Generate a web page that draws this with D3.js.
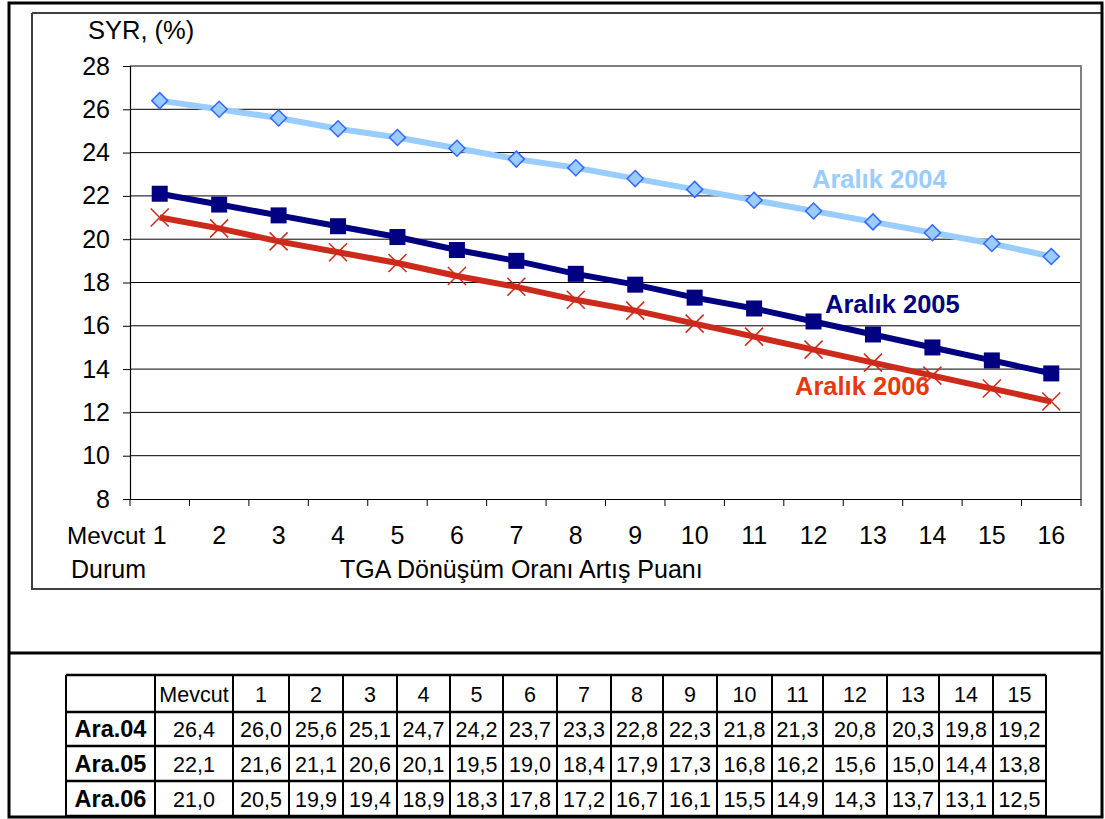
<!DOCTYPE html>
<html><head><meta charset="utf-8">
<script src="https://cdn.jsdelivr.net/npm/d3@7"></script>
<style>
html,body{margin:0;padding:0;background:#fff;}
svg{display:block;font-family:"Liberation Sans",Arial,sans-serif;}
</style></head>
<body><svg id="c" width="1105" height="819"></svg>
<script>
const xLabels = ["1","2","3","4","5","6","7","8","9","10","11","12","13","14","15","16"];
const tableHeaders = ["Mevcut","1","2","3","4","5","6","7","8","9","10","11","12","13","14","15"];
const seriesNames = ["Aralık 2004","Aralık 2005","Aralık 2006"];
const rowLabels = ["Ara.04","Ara.05","Ara.06"];
const ara04 = [26.4,26.0,25.6,25.1,24.7,24.2,23.7,23.3,22.8,22.3,21.8,21.3,20.8,20.3,19.8,19.2];
const ara05 = [22.1,21.6,21.1,20.6,20.1,19.5,19.0,18.4,17.9,17.3,16.8,16.2,15.6,15.0,14.4,13.8];
const ara06 = [21.0,20.5,19.9,19.4,18.9,18.3,17.8,17.2,16.7,16.1,15.5,14.9,14.3,13.7,13.1,12.5];
const yTicks = [8,10,12,14,16,18,20,22,24,26,28];

const svg = d3.select("#c");
const L=130, R=1081, T=66, B=499;
const FS = 25;

// outer frame
svg.append("rect").attr("x",9).attr("y",3).attr("width",1093).attr("height",814)
  .attr("fill","none").attr("stroke","#000").attr("stroke-width",3);
// chart area box
svg.append("path").attr("d","M32,13 H1102").attr("stroke","#000").attr("stroke-width",1.5);
svg.append("path").attr("d","M32,13 V589 H1102").attr("fill","none").attr("stroke","#404040").attr("stroke-width",2);
// divider
svg.append("path").attr("d","M9,653 H1102").attr("stroke","#000").attr("stroke-width",3);

const x = d3.scaleBand().domain(xLabels).range([L,R]);
const y = d3.scaleLinear().domain([8,28]).range([B,T]);

// gridlines
svg.append("g").selectAll("line").data(yTicks.filter(d=>d>8)).join("line")
  .attr("x1",L).attr("x2",R).attr("y1",d=>y(d)).attr("y2",d=>y(d))
  .attr("stroke","#000").attr("stroke-width",1);
// right border of plot (gray)
svg.append("line").attr("x1",R).attr("x2",R).attr("y1",T-1).attr("y2",B)
  .attr("stroke","#808080").attr("stroke-width",2);

// y axis
const yAxis = svg.append("g").attr("transform",`translate(${L},0)`)
  .call(d3.axisLeft(y).tickValues(yTicks).tickSize(7).tickPadding(13).tickFormat(d3.format("d")));
yAxis.select(".domain").attr("stroke","#000").attr("stroke-width",1.2);
yAxis.selectAll(".tick line").attr("stroke","#000");
yAxis.selectAll("text").attr("font-size",FS).attr("fill","#000").attr("font-family","Liberation Sans, Arial, sans-serif");

// x axis
const xAxis = svg.append("g").attr("transform",`translate(0,${B})`)
  .call(d3.axisBottom(x).tickSize(0).tickPadding(0));
xAxis.select(".domain").attr("stroke","#000").attr("stroke-width",1.2);
xAxis.selectAll("text").attr("font-size",FS).attr("fill","#000").attr("dy",null).attr("y",45)
  .attr("font-family","Liberation Sans, Arial, sans-serif");
// category-boundary tick marks
const bounds = xLabels.map(d=>x(d)).concat([x(xLabels[xLabels.length-1])+x.bandwidth()]);
svg.append("g").selectAll("line").data(bounds).join("line")
  .attr("x1",d=>d).attr("x2",d=>d).attr("y1",B).attr("y2",B+7).attr("stroke","#000");

svg.append("text").attr("x",67).attr("y",544).attr("font-size",24.3).text("Mevcut");
svg.append("text").attr("x",71).attr("y",578).attr("font-size",FS).text("Durum");
svg.append("text").attr("x",340).attr("y",578).attr("font-size",FS).text("TGA Dönüşüm Oranı Artış Puanı");
svg.append("text").attr("x",88).attr("y",39).attr("font-size",25.5).text("SYR, (%)");

const cx = (d,i)=>x(xLabels[i])+x.bandwidth()/2;
const line = d3.line().x((d,i)=>cx(d,i)).y(d=>y(d));

// series 2004
svg.append("path").datum(ara04).attr("d",line).attr("fill","none").attr("stroke","#99ccff").attr("stroke-width",6);
svg.append("g").selectAll("path").data(ara04).join("path")
  .attr("d",(d,i)=>{const X=cx(d,i),Y=y(d),s=8;return `M${X},${Y-s}L${X+s},${Y}L${X},${Y+s}L${X-s},${Y}Z`;})
  .attr("fill","#99ccff").attr("stroke","#3366ff").attr("stroke-width",1.5);
// series 2005
svg.append("path").datum(ara05).attr("d",line).attr("fill","none").attr("stroke","#000080").attr("stroke-width",6);
svg.append("g").selectAll("rect").data(ara05).join("rect")
  .attr("x",(d,i)=>cx(d,i)-8).attr("y",d=>y(d)-8).attr("width",16).attr("height",16)
  .attr("fill","#000080");
// series 2006
svg.append("path").datum(ara06).attr("d",line).attr("fill","none").attr("stroke","#cc2a1a").attr("stroke-width",6);
svg.append("g").selectAll("path").data(ara06).join("path")
  .attr("d",(d,i)=>{const X=cx(d,i),Y=y(d),s=9;return `M${X-s},${Y-s}L${X+s},${Y+s}M${X+s},${Y-s}L${X-s},${Y+s}`;})
  .attr("stroke","#cc2a1a").attr("stroke-width",1.5).attr("fill","none");

// series labels
const labelPos = [[812,188,"#99ccff"],[825,313,"#000080"],[795,395,"#e8380d"]];
svg.append("g").selectAll("text").data(seriesNames).join("text")
  .attr("x",(d,i)=>labelPos[i][0]).attr("y",(d,i)=>labelPos[i][1])
  .attr("fill",(d,i)=>labelPos[i][2]).attr("font-size",25.5).attr("font-weight","bold")
  .text(d=>d);

// table
const colB = [66,155,233,289,343,397,450,503,557,611,663,717,772,823,887,939,993,1046];
const rowB = [675,712,746,781,816];
const tbl = svg.append("g");
const rows = [ara04, ara05, ara06];
const fmt = v => v.toFixed(1).replace(".",",");
tableHeaders.forEach((h,j)=>{
  tbl.append("text").attr("x",(colB[j+1]+colB[j+2])/2).attr("y",(rowB[0]+rowB[1])/2+8)
    .attr("text-anchor","middle").attr("font-size",21.5).text(h);
});
rows.forEach((r,i)=>{
  tbl.append("text").attr("x",(colB[0]+colB[1])/2).attr("y",(rowB[i+1]+rowB[i+2])/2+8)
    .attr("text-anchor","middle").attr("font-size",23.5).attr("font-weight","bold").text(rowLabels[i]);
  r.forEach((v,j)=>{
    tbl.append("text").attr("x",(colB[j+1]+colB[j+2])/2).attr("y",(rowB[i+1]+rowB[i+2])/2+8)
      .attr("text-anchor","middle").attr("font-size",21.5).text(fmt(v));
  });
});
colB.forEach(c=>tbl.append("line").attr("x1",c).attr("x2",c).attr("y1",rowB[0]).attr("y2",rowB[4]).attr("stroke","#000").attr("stroke-width",2));
rowB.forEach(r=>tbl.append("line").attr("x1",colB[0]).attr("x2",colB[colB.length-1]).attr("y1",r).attr("y2",r).attr("stroke","#000").attr("stroke-width",2.5));
</script></body></html>
